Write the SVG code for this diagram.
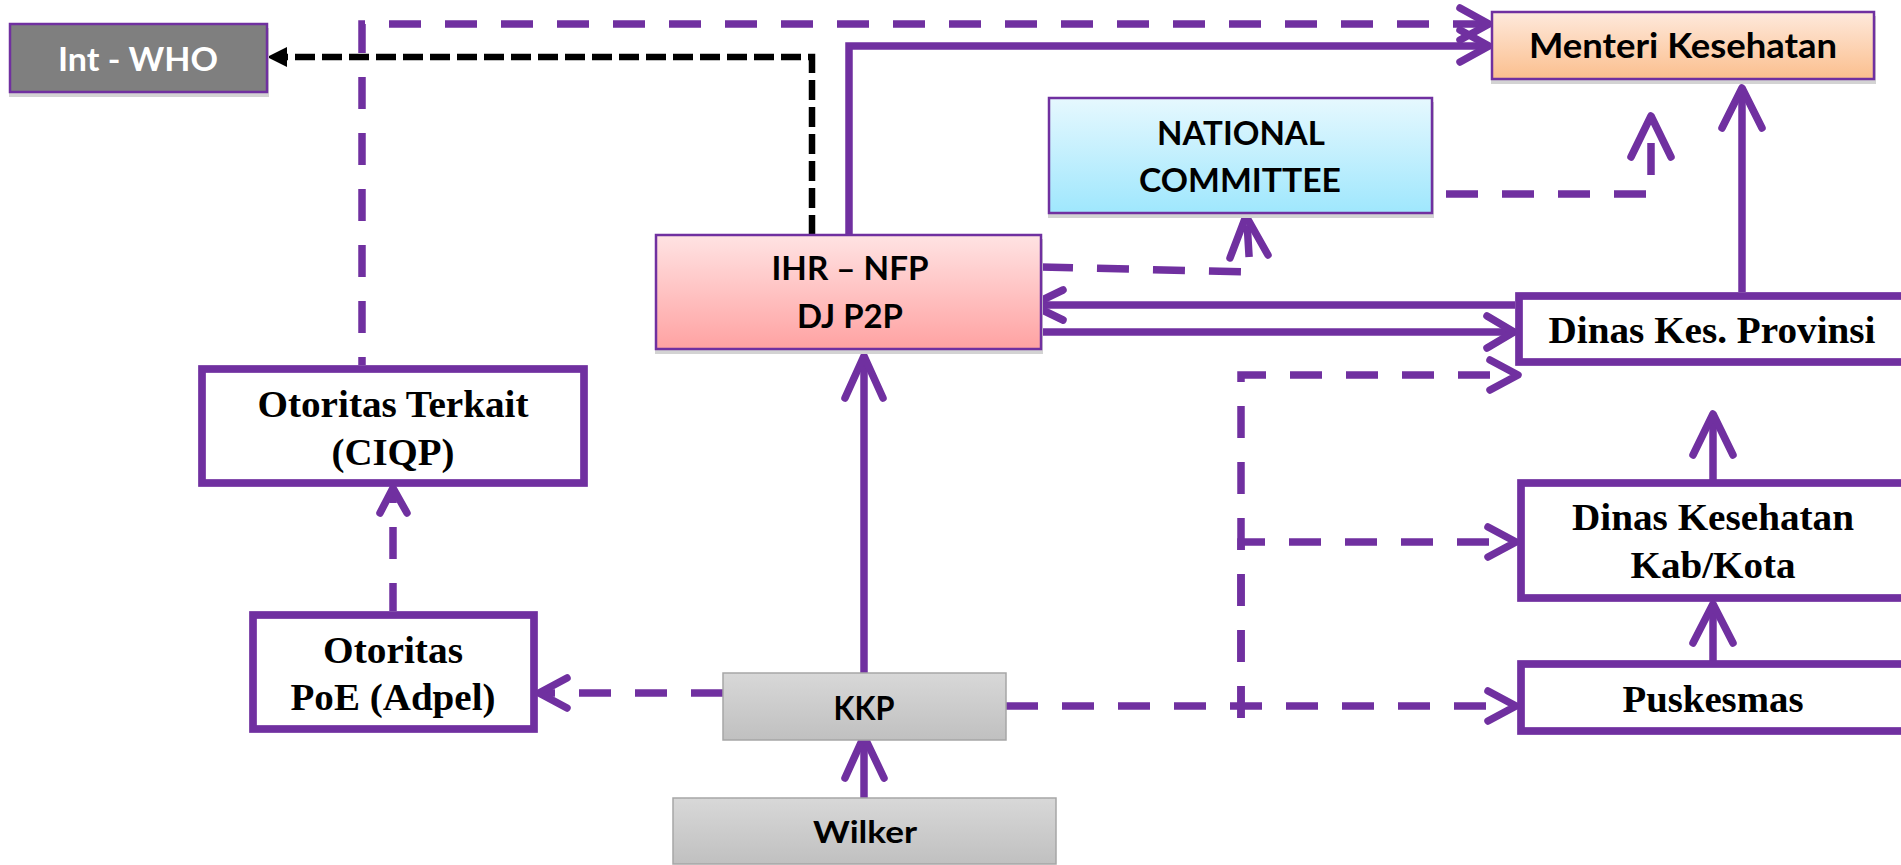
<svg xmlns="http://www.w3.org/2000/svg" width="1901" height="865" viewBox="0 0 1901 865">
  <defs>
    <linearGradient id="gPeach" x1="0" y1="0" x2="0" y2="1">
      <stop offset="0" stop-color="#fee9dc"/>
      <stop offset="1" stop-color="#fbbf8e"/>
    </linearGradient>
    <linearGradient id="gCyan" x1="0" y1="0" x2="0" y2="1">
      <stop offset="0" stop-color="#e6f8fe"/>
      <stop offset="1" stop-color="#9fe7fd"/>
    </linearGradient>
    <linearGradient id="gPink" x1="0" y1="0" x2="0" y2="1">
      <stop offset="0" stop-color="#ffe3e3"/>
      <stop offset="1" stop-color="#ffa2a2"/>
    </linearGradient>
    <linearGradient id="gGray" x1="0" y1="0" x2="0" y2="1">
      <stop offset="0" stop-color="#d8d8d8"/>
      <stop offset="1" stop-color="#c0c0c0"/>
    </linearGradient>
  </defs>
  <style>
    .line { fill: none; stroke: #7030a0; stroke-width: 7.5; }
    .dash { fill: none; stroke: #7030a0; stroke-width: 7.5; stroke-dasharray: 32 24; }
    .head { fill: none; stroke: #7030a0; stroke-width: 7.5; stroke-linecap: round; stroke-linejoin: round; }
    .bdash { fill: none; stroke: #000; stroke-width: 6.5; stroke-dasharray: 20 7; }
    .shadow { fill: #d3d3d3; }
    .thin { stroke: #7030a0; stroke-width: 2.5; }
    .grayedge { stroke: #a6a6a6; stroke-width: 1.5; }
    .frame { fill: #fff; stroke: #7030a0; stroke-width: 7.7; }
    .sans { font-family: Lato, "Liberation Sans", sans-serif; font-weight: bold; text-anchor: middle; fill: #000; }
    .serif { font-family: "Liberation Serif", "Times New Roman", serif; font-weight: bold; text-anchor: middle; fill: #000; font-size: 38px; }
  </style>

  <!-- connectors -->
  <g id="connectors">
    <!-- IHR to WHO (black, short dashes) -->
    <path class="bdash" d="M812,235 V57 H282"/>
    <polygon points="267,57 287,47 287,67" fill="#000"/>

    <!-- Otoritas Terkait to Menteri (dashed) -->
    <path class="dash" style="stroke-dashoffset:24" d="M362,365 V24 H1486"/>
    <polyline class="head" points="1460,8 1489,24 1460,40"/>

    <!-- IHR to Menteri (solid) -->
    <path class="line" d="M849,235 V46 H1486"/>
    <polyline class="head" points="1460,30 1489,46 1460,62"/>

    <!-- National Committee to Menteri -->
    <path class="dash" d="M1446,194 H1651 V120"/>
    <polyline class="head" points="1631,157 1651,116 1671,157"/>

    <!-- Dinas Provinsi to Menteri -->
    <path class="line" d="M1742,292 V92"/>
    <polyline class="head" points="1722,128 1742,88 1762,128"/>

    <!-- IHR to National Committee -->
    <path class="dash" d="M1041,267 L1250,272 L1247,222"/>
    <polyline class="head" points="1230,258 1246,216 1268,255"/>

    <!-- Dinas Provinsi to IHR -->
    <path class="line" d="M1515,305 H1036"/>
    <polyline class="head" points="1063,290 1032,305 1063,320"/>

    <!-- IHR to Dinas Provinsi -->
    <path class="line" d="M1041,332 H1510"/>
    <polyline class="head" points="1487,316 1514,332 1487,348"/>

    <!-- KKP branches to Dinas Provinsi and Dinas Kab/Kota -->
    <path class="dash" d="M1241,718 V375 H1514"/>
    <polyline class="head" points="1490,360 1518,375 1490,390"/>
    <path class="dash" d="M1241,718 V542 H1512"/>
    <polyline class="head" points="1488,527 1516,542 1488,557"/>

    <!-- KKP to Puskesmas -->
    <path class="dash" d="M1006,706 H1512"/>
    <polyline class="head" points="1488,691 1516,706 1488,721"/>

    <!-- Kab/Kota to Provinsi -->
    <path class="line" d="M1713,480 V418"/>
    <polyline class="head" points="1693,455 1713,414 1733,455"/>

    <!-- Puskesmas to Kab/Kota -->
    <path class="line" d="M1713,661 V608"/>
    <polyline class="head" points="1693,643 1713,604 1733,643"/>

    <!-- Otoritas PoE to Otoritas Terkait -->
    <path class="dash" style="stroke-dashoffset:4" d="M393,611 V492"/>
    <polyline class="head" points="380,513 393,488 407,513"/>

    <!-- KKP to Otoritas PoE -->
    <path class="dash" d="M723,693 H543"/>
    <polyline class="head" points="567,678 539,693 567,708"/>

    <!-- KKP to IHR -->
    <path class="line" d="M864,673 V360"/>
    <polyline class="head" points="845,398 864,356 883,398"/>

    <!-- Wilker to KKP -->
    <path class="line" d="M864,798 V740"/>
    <polyline class="head" points="845,778 864,736 884,778"/>
  </g>

  <!-- nodes -->
  <g id="int-who">
    <rect class="shadow" x="9" y="28" width="260" height="69"/>
    <rect x="10" y="24" width="257" height="68" fill="#7f7f7f" class="thin"/>
    <text class="sans" x="138" y="71" font-size="33" fill="#fff" style="fill:#fff" textLength="160" lengthAdjust="spacingAndGlyphs">Int - WHO</text>
  </g>

  <g id="menteri">
    <rect class="shadow" x="1491" y="16" width="385" height="68"/>
    <rect x="1492" y="12" width="382" height="67" fill="url(#gPeach)" class="thin"/>
    <text class="sans" x="1683" y="58" font-size="35" textLength="308" lengthAdjust="spacingAndGlyphs">Menteri Kesehatan</text>
  </g>

  <g id="national-committee">
    <rect class="shadow" x="1048" y="102" width="386" height="116"/>
    <rect x="1049" y="98" width="383" height="115" fill="url(#gCyan)" class="thin"/>
    <text class="sans" x="1241" y="145" font-size="33" textLength="168" lengthAdjust="spacingAndGlyphs">NATIONAL</text>
    <text class="sans" x="1240" y="192" font-size="33" textLength="202" lengthAdjust="spacingAndGlyphs">COMMITTEE</text>
  </g>

  <g id="ihr-nfp">
    <rect class="shadow" x="655" y="239" width="388" height="115"/>
    <rect x="656" y="235" width="385" height="114" fill="url(#gPink)" class="thin"/>
    <text class="sans" x="850" y="280" font-size="32" textLength="157" lengthAdjust="spacingAndGlyphs">IHR – NFP</text>
    <text class="sans" x="850" y="328" font-size="32" textLength="106" lengthAdjust="spacingAndGlyphs">DJ P2P</text>
  </g>

  <g id="dinas-provinsi">
    <rect class="frame" x="1519" y="296" width="400" height="66"/>
    <text class="serif" x="1712" y="343" textLength="327" lengthAdjust="spacingAndGlyphs">Dinas Kes. Provinsi</text>
  </g>

  <g id="dinas-kabkota">
    <rect class="frame" x="1521" y="483" width="400" height="115"/>
    <text class="serif" x="1713" y="530" textLength="282" lengthAdjust="spacingAndGlyphs">Dinas Kesehatan</text>
    <text class="serif" x="1713" y="578" textLength="165" lengthAdjust="spacingAndGlyphs">Kab/Kota</text>
  </g>

  <g id="puskesmas">
    <rect class="frame" x="1521" y="664" width="400" height="67"/>
    <text class="serif" x="1713" y="712" textLength="181" lengthAdjust="spacingAndGlyphs">Puskesmas</text>
  </g>

  <g id="otoritas-terkait">
    <rect class="frame" x="202" y="369" width="382" height="114"/>
    <text class="serif" x="393" y="417" textLength="271" lengthAdjust="spacingAndGlyphs">Otoritas Terkait</text>
    <text class="serif" x="393" y="465" textLength="123" lengthAdjust="spacingAndGlyphs">(CIQP)</text>
  </g>

  <g id="otoritas-poe">
    <rect class="frame" x="253" y="615" width="281" height="114"/>
    <text class="serif" x="393" y="663" textLength="140" lengthAdjust="spacingAndGlyphs">Otoritas</text>
    <text class="serif" x="393" y="710" textLength="205" lengthAdjust="spacingAndGlyphs">PoE (Adpel)</text>
  </g>

  <g id="kkp">
    <rect x="723" y="673" width="283" height="67" fill="url(#gGray)" class="grayedge"/>
    <text class="sans" x="864" y="720" font-size="32" textLength="61" lengthAdjust="spacingAndGlyphs">KKP</text>
  </g>

  <g id="wilker">
    <rect x="673" y="798" width="383" height="66" fill="url(#gGray)" class="grayedge"/>
    <text class="sans" x="865" y="843" font-size="31" textLength="104" lengthAdjust="spacingAndGlyphs">Wilker</text>
  </g>
</svg>
